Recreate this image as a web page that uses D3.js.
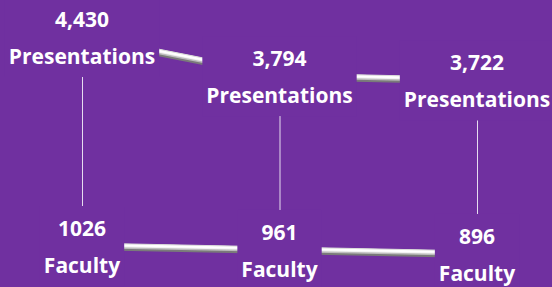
<!DOCTYPE html>
<html>
<head>
<meta charset="utf-8">
<script src="https://cdn.jsdelivr.net/npm/d3@7"></script>
<style>
	html, body { margin:0; padding:0; background:#7030a0; }
	svg { display:block; }
	.lbl { font-family: "Open Sans", sans-serif; font-weight:bold; font-size:21px; fill:#fff; font-variant-ligatures:none; }
</style>
</head>
<body>
<div id="chart"></div>
<script>
let categories = ["1", "2", "3"]
let presentations = [4430, 3794, 3722]
let faculty = [1026, 961, 896]
let seriesNames = ["Presentations", "Faculty"]
let seriesFormats = [",d", "d"]

let fullWidth = 552, fullHeight = 287

let svg = d3.select("#chart")
	.append("svg")
	.attr("width", fullWidth)
	.attr("height", fullHeight)

svg.append("rect")
	.attr("width", fullWidth)
	.attr("height", fullHeight)
	.attr("fill", "#7030a0")

let xScale = d3.scalePoint()
	.domain(categories)
	.range([82, 477])

let yScale = d3.scaleLinear()
	.domain([0, 5000])
	.range([309, 2])

let series = [presentations, faculty].map((values, s) => values.map((v, i) => ({
	cat: categories[i],
	value: v,
	name: seriesNames[s],
	fmt: d3.format(seriesFormats[s])
})))

let lineGenerator = d3.line()
	.x(d => xScale(d.cat))
	.y(d => yScale(d.value))

// tube look: stacked strokes, dark at the bottom, white near the top
let tube = [
	{dy: 0.5, w: 7, c: "#7a7a7a"},
	{dy: -0.5, w: 5, c: "#bdbdbd"},
	{dy: -1.2, w: 3.5, c: "#f2f2f2"},
	{dy: -1.5, w: 2, c: "#ffffff"},
	{dy: -3, w: 1, c: "#dcdcdc"}
]

series.forEach(data => {
	tube.forEach(layer => {
		svg.append("path")
			.datum(data)
			.attr("d", lineGenerator)
			.attr("transform", `translate(0,${layer.dy})`)
			.attr("fill", "none")
			.attr("stroke", layer.c)
			.attr("stroke-width", layer.w)
	})
})

// high-low lines
svg.selectAll(".hilo")
	.data(categories)
	.enter()
	.append("line")
	.attr("class", "hilo")
	.attr("x1", d => xScale(d) + 0.5)
	.attr("x2", d => xScale(d) + 0.5)
	.attr("y1", (d, i) => yScale(presentations[i]))
	.attr("y2", (d, i) => yScale(faculty[i]))
	.attr("stroke", "#e6dcef")
	.attr("stroke-width", 1)

// data labels with a filled box that hides the lines behind them
series.forEach(data => {
	let labels = svg.selectAll(null)
		.data(data)
		.enter()
		.append("g")
		.attr("transform", d => `translate(${xScale(d.cat)},${yScale(d.value)})`)

	let box = labels.append("rect")
		.attr("fill", "#7030a0")

	let text = labels.append("text")
		.attr("class", "lbl")
		.attr("text-anchor", "middle")

	text.append("tspan")
		.attr("x", 0)
		.attr("y", -10)
		.text(d => d.fmt(d.value))

	text.append("tspan")
		.attr("x", 0)
		.attr("y", 27)
		.text(d => d.name)

	box.each(function(){
		let bb = this.parentNode.querySelector("text").getBBox()
		d3.select(this)
			.attr("x", bb.x - 4)
			.attr("width", bb.width + 8)
			.attr("y", -40)
			.attr("height", 80)
	})
})
</script>
</body>
</html>
